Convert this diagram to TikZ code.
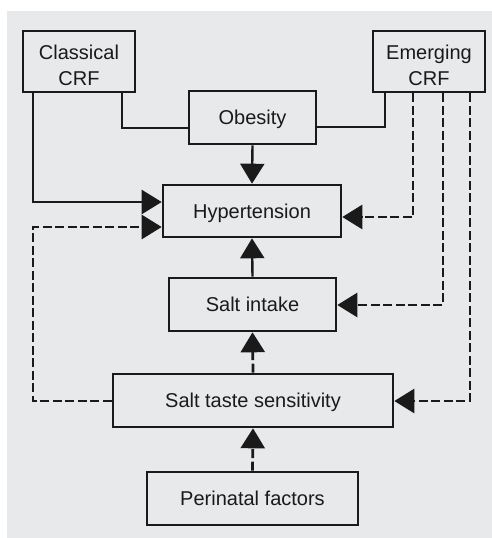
\documentclass[tikz,border=0pt]{standalone}
\usepackage{fontspec}
\setmainfont{Liberation Sans}
\usetikzlibrary{arrows.meta}
\definecolor{bg}{HTML}{E8E9EB}
\definecolor{ink}{HTML}{1A1A1A}
\begin{document}
\begin{tikzpicture}[x=1pt,y=-1pt,
  box/.style={draw=ink, line width=2.6pt, minimum width=#1, inner sep=0pt, align=center,
              text=ink, font=\fontsize{20}{26}\selectfont, text height=14.3pt, text depth=0pt},
  lbl/.style={inner sep=0pt, align=center, text=ink, font=\fontsize{20}{26}\selectfont,
              text height=14.3pt, text depth=0pt},
  ln/.style={draw=ink, line width=2.4pt},
  dsh/.style={ln, line width=2.7pt, dash pattern=on 9pt off 3.5pt},
  arr/.style={-{Triangle[length=20pt,width=24pt]}}
]
\useasboundingbox (0,0) rectangle (492,538);
\fill[bg] (7,11) rectangle (492,538);

\node[box=112pt, minimum height=61pt] (cl) at (79,61.5) {};
\node[lbl] (cl1) at (79,52.5) {Classical};
\node[lbl] (cl2) at (79,78) {CRF};
\node[box=112pt, minimum height=61pt] (em) at (429,61.5) {};
\node[lbl] (em1) at (429,52.5) {Emerging};
\node[lbl] (em2) at (429,78) {CRF};
\node[box=127pt, minimum height=53pt] (ob) at (252.5,117.5) {Obesity};
\node[box=178pt, minimum height=52pt] (hy) at (252,211) {Hypertension};
\node[box=167pt, minimum height=53pt] (si) at (252.5,304.5) {Salt intake};
\node[box=280pt, minimum height=53pt] (st) at (253,400.5) {Salt taste sensitivity};
\node[box=211pt, minimum height=53pt] (pf) at (252.5,498.5) {Perinatal factors};

% solid connectors
\draw[ln] (cl.south -| 122,0) |- (ob.west |- 0,128);
\draw[ln] (em.south -| 385,0) |- (ob.east |- 0,127);
\draw[ln,arr] (cl.south -| 33,0) |- (hy.west |- 0,202);
\draw[ln,arr] (ob.south) -- (hy.north);
\draw[ln,arr] (si.north) -- (hy.south);

% dashed connectors
\draw[dsh,arr] (em.south -| 413,0) |- (hy.east |- 0,217);
\draw[dsh,arr] (em.south -| 443,0) |- (si.east |- 0,305);
\draw[dsh,arr] (em.south -| 470,0) |- (st.east |- 0,401);
\draw[dsh,arr] (st.north) -- (si.south);
\draw[dsh,arr] (pf.north) -- (st.south);
\draw[dsh,arr] (st.west |- 0,401) -| (33,227) -- (hy.west |- 0,227);
\end{tikzpicture}
\end{document}
